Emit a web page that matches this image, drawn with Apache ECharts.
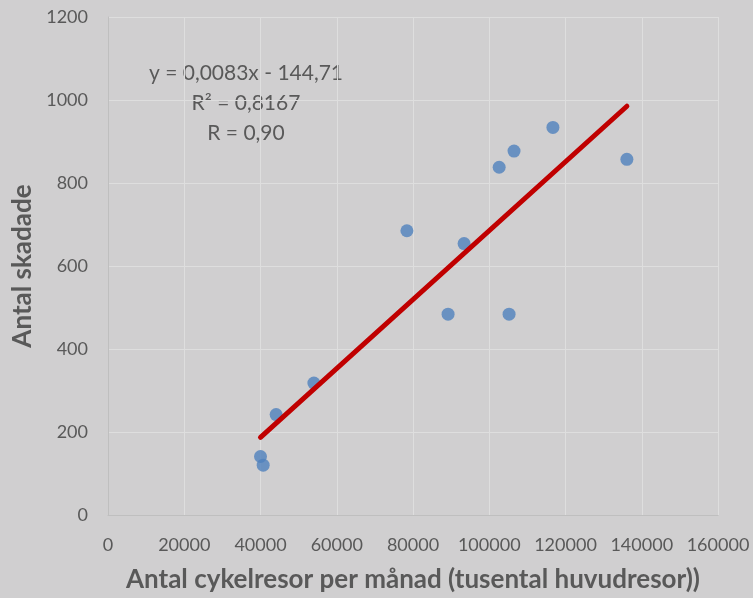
<!DOCTYPE html>
<html>
<head>
<meta charset="utf-8">
<script src="https://cdn.jsdelivr.net/npm/echarts@6/dist/echarts.min.js"></script>
<style>
  html, body { margin: 0; padding: 0; background: #d0cfd0; }
  #chart { width: 753px; height: 598px; }
</style>
</head>
<body>
<div id="chart"></div>
<script>
// cykelresor per månad (tusental) vs antal skadade
const resor = [40000, 40700, 44100, 54000, 78400, 89200, 93400, 102600, 105200, 106500, 116700, 136100]
const skadade = [141, 120, 242, 318, 685, 484, 654, 838, 484, 877, 934, 857]
const xTicks = [0, 20000, 40000, 60000, 80000, 100000, 120000, 140000, 160000]
const yTicks = [0, 200, 400, 600, 800, 1000, 1200]
const trendK = 0.0083
const trendM = -144.71
const eqLines = ['y = 0,0083x - 144,71', 'R² = 0,8167', 'R = 0,90']

const points = resor.map((x, i) => [x, skadade[i]])
const xMinData = Math.min(...resor)
const xMaxData = Math.max(...resor)
const trend = [
  [xMinData, trendK * xMinData + trendM],
  [xMaxData, trendK * xMaxData + trendM]
]

const font = 'Lato, "Open Sans", sans-serif'
const textColor = '#595959'

const chart = echarts.init(document.getElementById('chart'))
chart.setOption({
  backgroundColor: '#d0cfd0',
  animation: false,
  grid: { left: 108, right: 35, top: 17, bottom: 80 },
  xAxis: {
    type: 'value',
    min: xTicks[0],
    max: xTicks[xTicks.length - 1],
    interval: 20000,
    name: 'Antal cykelresor per månad (tusental huvudresor))',
    nameLocation: 'middle',
    nameGap: 52,
    nameTextStyle: { fontFamily: font, fontSize: 26, fontWeight: 'bold', color: textColor },
    axisLine: { show: true, lineStyle: { color: '#bfbfbf', width: 1 } },
    axisTick: { show: false },
    axisLabel: { fontFamily: font, fontSize: 18, color: textColor, margin: 21, formatter: v => String(v) },
    splitLine: { show: true, lineStyle: { color: '#dedede', width: 1 } }
  },
  yAxis: {
    type: 'value',
    min: yTicks[0],
    max: yTicks[yTicks.length - 1],
    interval: 200,
    name: 'Antal skadade',
    nameLocation: 'middle',
    nameGap: 72,
    nameTextStyle: { fontFamily: font, fontSize: 26, fontWeight: 'bold', color: textColor },
    axisLine: { show: true, lineStyle: { color: '#bfbfbf', width: 1 } },
    axisTick: { show: false },
    axisLabel: { fontFamily: font, fontSize: 18, color: textColor, margin: 20, formatter: v => String(v) },
    splitLine: { show: true, lineStyle: { color: '#dedede', width: 1 } }
  },
  graphic: eqLines.map((t, i) => ({
    type: 'text',
    x: 246,
    y: 73 + i * 30,
    style: {
      text: t,
      font: '21px ' + font,
      fill: textColor,
      align: 'center',
      verticalAlign: 'middle'
    }
  })),
  series: [
    {
      type: 'scatter',
      data: points,
      symbolSize: 13,
      itemStyle: { color: '#4f81bd' },
      z: 2
    },
    {
      type: 'line',
      data: trend,
      showSymbol: false,
      lineStyle: { color: '#c00000', width: 5, cap: 'round' },
      z: 3
    }
  ]
})
</script>
</body>
</html>
